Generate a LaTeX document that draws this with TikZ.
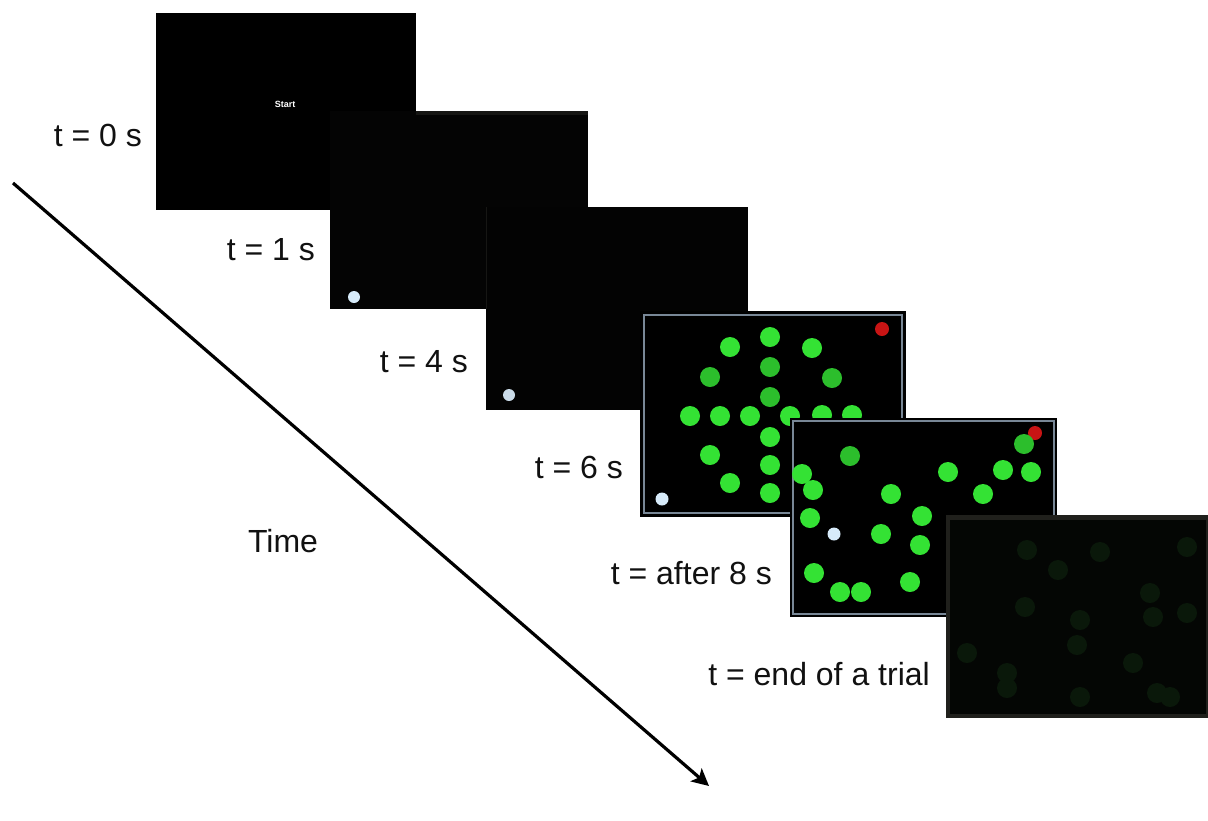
\documentclass[tikz,border=0pt]{standalone}
\usepackage{fontspec}
\setmainfont{Liberation Sans}
\usetikzlibrary{arrows.meta}
\definecolor{dotgreen}{RGB}{52,226,52}
\definecolor{dotdark}{RGB}{44,190,44}
\definecolor{dotred}{RGB}{200,20,20}
\definecolor{dotwhite}{RGB}{215,235,250}
\definecolor{framegray}{RGB}{120,135,150}
\definecolor{faint}{RGB}{10,24,10}
\definecolor{edge6}{RGB}{32,32,28}
\definecolor{txt}{RGB}{17,17,17}
\definecolor{scrtwo}{RGB}{4,4,4}
\definecolor{scrthree}{RGB}{3,3,3}
\definecolor{topstrip}{RGB}{22,22,20}
\definecolor{innersix}{RGB}{4,6,4}
\tikzset{
  screen/.style={fill=black, draw=none, inner sep=0, outer sep=0, anchor=north west},
  lbl/.style={font=\fontsize{32}{36}\selectfont, text=txt, inner sep=0},
}
\newcommand{\gd}[2]{\fill[dotgreen] (#1,#2) circle (10);}
\newcommand{\gk}[2]{\fill[dotdark] (#1,#2) circle (10);}
\newcommand{\fd}[2]{\fill[faint] (#1,#2) circle (10);}
\begin{document}
\begin{tikzpicture}[x=1pt,y=-1pt]
\useasboundingbox (0,0) rectangle (1208,820);
\fill[white] (0,0) rectangle (1208,820);

% screen 1
\node[screen, minimum width=260, minimum height=197] (s1) at (156,13) {};
\node[text=white, font=\fontsize{9}{10}\selectfont\bfseries] (start) at (285,104) {Start};

% screen 2
\node[screen, fill=scrtwo, minimum width=258, minimum height=198] (s2) at (330,111) {};
\fill[topstrip] (416,111) rectangle (588,115);
\fill[dotwhite] (354,297) circle (6);

% screen 3
\node[screen, fill=scrthree, minimum width=262, minimum height=203] (s3) at (486,207) {};
\draw[topstrip, line width=0.8] (486.4,207) -- (486.4,309);
\fill[dotwhite!85!gray] (509,395) circle (6);

% screen 4
\node[screen, minimum width=266, minimum height=206] (s4) at (640,311) {};
\draw[framegray, line width=1.2] (644,315) rectangle (902,513);
\fill[dotred] (882,329) circle (7);
\gd{770}{337}\gd{730}{347}\gd{812}{348}
\gk{710}{377}\gk{770}{367}\gk{832}{378}
\gk{770}{397}
\gd{690}{416}\gd{720}{416}\gd{750}{416}\gd{790}{416}\gd{822}{415}\gd{852}{415}
\gd{770}{437}\gd{710}{455}\gd{770}{465}\gd{730}{483}\gd{770}{493}
\fill[dotwhite] (662,499) circle (6.5);

% screen 5
\node[screen, minimum width=267, minimum height=199] (s5) at (790,418) {};
\draw[framegray, line width=1.2] (793,421) rectangle (1054,614);
\fill[dotred] (1035,433) circle (7);
\gk{850}{456}\gd{802}{474}\gd{813}{490}\gd{891}{494}\gd{948}{472}
\gd{1003}{470}\gd{1031}{472}\gk{1024}{444}\gd{983}{494}\gd{810}{518}
\gd{881}{534}\gd{922}{516}\gd{920}{545}\gd{814}{573}\gd{840}{592}
\gd{861}{592}\gd{910}{582}
\fill[dotwhite] (834,534) circle (6.5);

% screen 6
\node[screen, fill=edge6, minimum width=262, minimum height=203] (s6) at (946,515) {};
\fill[innersix] (950,520) rectangle (1206,714);
\fd{1027}{550}\fd{1100}{552}\fd{1058}{570}\fd{1187}{547}\fd{1025}{607}
\fd{1080}{620}\fd{1150}{593}\fd{1153}{617}\fd{1187}{613}\fd{967}{653}
\fd{1077}{645}\fd{1133}{663}\fd{1007}{673}\fd{1007}{688}\fd{1080}{697}
\fd{1157}{693}\fd{1170}{697}

% labels
\node[lbl, anchor=east] (l0) at (142,135) {t = 0 s};
\node[lbl, anchor=east] (l1) at (315,250) {t = 1 s};
\node[lbl, anchor=east] (l4) at (468,362) {t = 4 s};
\node[lbl, anchor=east] (l6) at (623,467) {t = 6 s};
\node[lbl, anchor=east] (l8) at (772,573) {t = after 8 s};
\node[lbl, anchor=east] (le) at (930,674) {t = end of a trial};
\node[lbl] (time) at (283,541) {Time};

% time arrow
\coordinate (a0) at (13,183);
\coordinate (a1) at (709,786);
\draw[line width=3.2, -{Stealth[length=17,width=17,inset=4]}] (a0) -- (a1);
\end{tikzpicture}
\end{document}
